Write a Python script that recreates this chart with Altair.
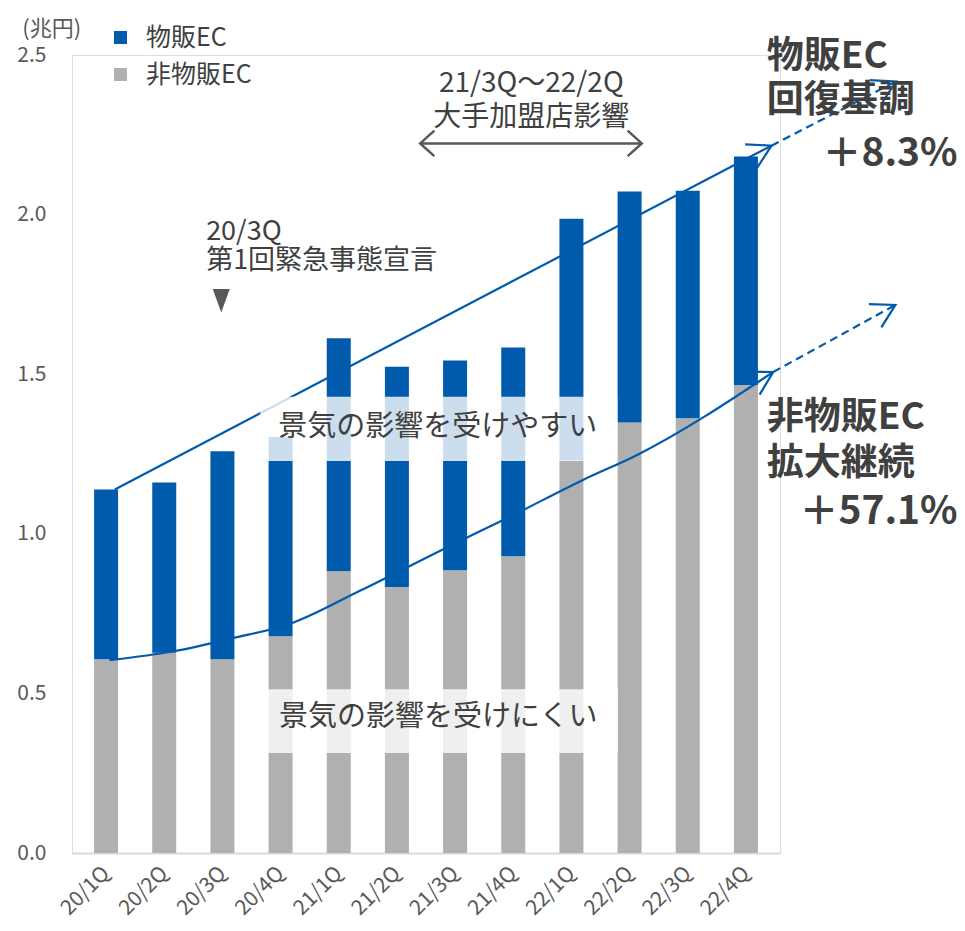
import altair as alt
import pandas as pd

# ---- data (trillion yen) ----
quarters = ["20/1Q", "20/2Q", "20/3Q", "20/4Q", "21/1Q", "21/2Q",
            "21/3Q", "21/4Q", "22/1Q", "22/2Q", "22/3Q", "22/4Q"]
non_goods_ec = [0.607, 0.627, 0.607, 0.679, 0.883, 0.833,
                0.886, 0.930, 1.231, 1.349, 1.362, 1.466]
goods_ec = [0.532, 0.534, 0.652, 0.624, 0.730, 0.690,
            0.657, 0.654, 0.756, 0.723, 0.713, 0.716]
series_names = ["物販EC", "非物販EC"]
series_colors = ["#005bac", "#b0b0b0"]
y_ticks = [0.0, 0.5, 1.0, 1.5, 2.0, 2.5]

# trend annotations (x = quarter index, y = value)
upper_trend_x = [0.15, 11.44]
upper_trend_y = [1.139, 2.216]
upper_dash_x = [11.44, 13.58]
upper_dash_y = [2.216, 2.417]
lower_trend_x = [0.06, 1.16, 2.18, 3.19, 4.38, 5.91, 6.97, 8.19, 9.13, 11.47]
lower_trend_y = [0.604, 0.632, 0.673, 0.720, 0.823, 0.962, 1.056, 1.168, 1.247, 1.507]
lower_dash_x = [11.47, 13.57]
lower_dash_y = [1.507, 1.717]

FONT = "Noto Sans CJK JP"
DARK = "#404040"
GREY = "#595959"
BLUE = "#005bac"

rows = []
for i, q in enumerate(quarters):
    rows.append({"idx": i, "q": q, "series": series_names[1], "value": non_goods_ec[i], "ord": 0})
    rows.append({"idx": i, "q": q, "series": series_names[0], "value": goods_ec[i], "ord": 1})
bars_df = pd.DataFrame(rows)

label_expr = "[" + ",".join("'%s'" % q for q in quarters) + "][datum.value]"

x_scale = alt.Scale(domain=[-0.5, 11.5], nice=False, zero=False)
y_scale = alt.Scale(domain=[0, 2.5], nice=False)

bars = alt.Chart(bars_df).mark_bar(size=24).encode(
    x=alt.X("idx:Q", scale=x_scale, title=None,
            axis=alt.Axis(values=list(range(len(quarters))), labelExpr=label_expr,
                          labelAngle=315, labelAlign="right", labelBaseline="middle",
                          labelPadding=17, labelFontSize=21, labelColor=GREY,
                          labelFont=FONT, labelOverlap=False, labelBound=False,
                          labelFlush=False, grid=False, ticks=False, domain=True,
                          domainColor="#d9d9d9", domainWidth=2)),
    y=alt.Y("value:Q", stack="zero", scale=y_scale, title=None,
            axis=alt.Axis(values=y_ticks, format=".1f", grid=False, domain=False,
                          ticks=False, labelFontSize=21, labelColor=GREY,
                          labelFont=FONT, labelPadding=26)),
    color=alt.Color("series:N", title=None,
                    scale=alt.Scale(domain=series_names, range=series_colors),
                    legend=alt.Legend(orient="none", legendX=36, legendY=-30,
                                      symbolType="square", symbolSize=169,
                                      symbolStrokeWidth=0, labelFontSize=25,
                                      labelColor=DARK, labelFont=FONT,
                                      labelOffset=13, rowPadding=11, padding=0)),
    order=alt.Order("ord:Q", sort="ascending"),
)


def line_layer(xs, ys, dash=None, interp="linear"):
    df = pd.DataFrame({"x": xs, "y": ys})
    kw = dict(color=BLUE, strokeWidth=2.2, interpolate=interp)
    if dash:
        kw["strokeDash"] = dash
    return alt.Chart(df).mark_line(**kw).encode(
        x=alt.X("x:Q", scale=x_scale, title=None),
        y=alt.Y("y:Q", scale=y_scale, title=None))


upper_line = line_layer(upper_trend_x, upper_trend_y)
upper_dash = line_layer(upper_dash_x, upper_dash_y, dash=[8, 5])
lower_line = line_layer(lower_trend_x, lower_trend_y, interp="monotone")
lower_dash = line_layer(lower_dash_x, lower_dash_y, dash=[8, 5])

arrow_df = pd.DataFrame({
    "x": [upper_trend_x[-1], upper_dash_x[-1], lower_trend_x[-1], lower_dash_x[-1]],
    "y": [upper_trend_y[-1], upper_dash_y[-1], lower_trend_y[-1], lower_dash_y[-1]],
    "ang": [333, 333, 331, 332],
})
arrows = alt.Chart(arrow_df).mark_point(
    shape="M-1,-0.576L0,0L-1,0.576", size=2100, filled=False,
    color=BLUE, strokeWidth=2.2, opacity=1,
).encode(x=alt.X("x:Q", scale=x_scale, title=None),
         y=alt.Y("y:Q", scale=y_scale, title=None),
         angle=alt.Angle("ang:Q", scale=None))

# translucent boxes behind the two labels
box_df = pd.DataFrame({
    "x": [2.65, 2.75], "x2": [8.79, 8.80],
    "y": [1.429, 0.513], "y2": [1.228, 0.313],
})
boxes = alt.Chart(box_df).mark_rect(color="white", opacity=0.8).encode(
    x=alt.X("x:Q", scale=x_scale, title=None), x2="x2",
    y=alt.Y("y:Q", scale=y_scale, title=None), y2="y2")

box_text_df = pd.DataFrame({
    "x": [5.70, 5.71], "y": [1.335, 0.425],
    "t": ["景気の影響を受けやすい", "景気の影響を受けにくい"],
})
box_text = alt.Chart(box_text_df).mark_text(
    font=FONT, fontSize=29, color=DARK, align="center", baseline="middle"
).encode(x=alt.X("x:Q", scale=x_scale, title=None),
         y=alt.Y("y:Q", scale=y_scale, title=None), text="t:N")

# unit label
unit_text = alt.Chart(pd.DataFrame({"x": [-1.44], "y": [2.580], "t": ["(兆円)"]})).mark_text(
    font=FONT, fontSize=22, color=GREY, align="left", baseline="middle"
).encode(x=alt.X("x:Q", scale=x_scale, title=None),
         y=alt.Y("y:Q", scale=y_scale, title=None), text="t:N")

# top annotation
top_text_df = pd.DataFrame({
    "x": [7.31, 7.31], "y": [2.410, 2.304],
    "t": ["21/3Q～22/2Q", "大手加盟店影響"],
})
top_text = alt.Chart(top_text_df).mark_text(
    font=FONT, fontSize=28, color=DARK, align="center", baseline="middle"
).encode(x=alt.X("x:Q", scale=x_scale, title=None),
         y=alt.Y("y:Q", scale=y_scale, title=None), text="t:N")

span_df = pd.DataFrame({"x": [5.40], "x2": [9.21], "y": [2.223]})
span_line = alt.Chart(span_df).mark_rule(color=GREY, strokeWidth=2.5).encode(
    x=alt.X("x:Q", scale=x_scale, title=None), x2="x2",
    y=alt.Y("y:Q", scale=y_scale, title=None))
span_heads_df = pd.DataFrame({"x": [5.40, 9.21], "y": [2.223, 2.223], "ang": [180, 0]})
span_heads = alt.Chart(span_heads_df).mark_point(
    shape="M-1,-0.9L0,0L-1,0.9", size=800, filled=False, color=GREY,
    strokeWidth=2.5, opacity=1,
).encode(x=alt.X("x:Q", scale=x_scale, title=None),
         y=alt.Y("y:Q", scale=y_scale, title=None),
         angle=alt.Angle("ang:Q", scale=None))

# 20/3Q annotation
ev_text_df = pd.DataFrame({
    "x": [1.72, 1.72], "y": [1.946, 1.855],
    "t": ["20/3Q", "第1回緊急事態宣言"],
})
ev_text = alt.Chart(ev_text_df).mark_text(
    font=FONT, fontSize=27, color=DARK, align="left", baseline="middle"
).encode(x=alt.X("x:Q", scale=x_scale, title=None),
         y=alt.Y("y:Q", scale=y_scale, title=None), text="t:N")
ev_tri = alt.Chart(pd.DataFrame({"x": [1.98], "y": [1.730]})).mark_point(
    shape="M-0.72,-1L0.72,-1L0,1Z", size=560, filled=True, color=GREY, opacity=1
).encode(x=alt.X("x:Q", scale=x_scale, title=None),
         y=alt.Y("y:Q", scale=y_scale, title=None))

# right-side bold annotations
right_head_df = pd.DataFrame({
    "x": [11.36, 11.36, 11.36, 11.36],
    "y": [2.495, 2.357, 1.363, 1.219],
    "t": ["物販EC", "回復基調", "非物販EC", "拡大継続"],
})
right_head = alt.Chart(right_head_df).mark_text(
    font=FONT, fontSize=37, fontWeight="bold", color=DARK, align="left", baseline="middle"
).encode(x=alt.X("x:Q", scale=x_scale, title=None),
         y=alt.Y("y:Q", scale=y_scale, title=None), text="t:N")
right_pct_df = pd.DataFrame({
    "x": [14.64, 14.64], "y": [2.191, 1.068], "t": ["＋8.3%", "＋57.1%"],
})
right_pct = alt.Chart(right_pct_df).mark_text(
    font=FONT, fontSize=39, fontWeight="bold", color=DARK, align="right", baseline="middle"
).encode(x=alt.X("x:Q", scale=x_scale, title=None),
         y=alt.Y("y:Q", scale=y_scale, title=None), text="t:N")

chart = alt.layer(
    bars, upper_line, lower_line, upper_dash, lower_dash, arrows,
    boxes, box_text, unit_text, top_text, span_line, span_heads, ev_text, ev_tri,
    right_head, right_pct,
).properties(
    width=708, height=798,
    autosize=alt.AutoSizeParams(type="none"),
    padding={"left": 64, "top": 47, "right": 177, "bottom": 70},
).configure_view(stroke=None).configure(font=FONT)

chart.save("out.html", embed_options={"renderer": "svg", "actions": False})
